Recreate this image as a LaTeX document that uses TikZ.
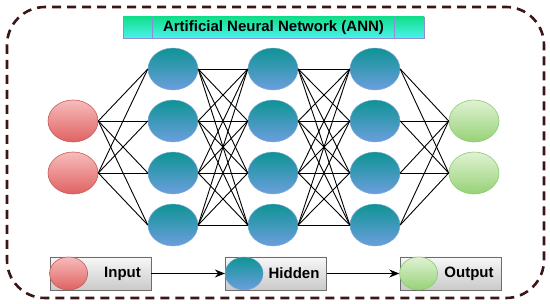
\documentclass[tikz,border=0pt]{standalone}
\usepackage{fontspec}
\setmainfont{Liberation Sans}
\usepackage{tikz}
\usetikzlibrary{positioning,arrows.meta,shapes.geometric}
\usepackage{xcolor}
\definecolor{frame}{HTML}{3B1616}
\definecolor{intop}{HTML}{F7BCBC}
\definecolor{inbot}{HTML}{E06262}
\definecolor{inedge}{HTML}{C65A5A}
\definecolor{hidtop}{HTML}{0E9494}
\definecolor{hidbot}{HTML}{6C9EDE}
\definecolor{hidedge}{HTML}{7FA6D8}
\definecolor{outtop}{HTML}{E0F2D4}
\definecolor{outbot}{HTML}{96D276}
\definecolor{outedge}{HTML}{8CC872}
\definecolor{titletop}{HTML}{12DF8C}
\definecolor{titlebot}{HTML}{4AF2EC}
\definecolor{titleedge}{HTML}{8E8ED2}

\begin{document}
\begin{tikzpicture}[x=1pt, y=-1pt, >={Stealth[length=10pt,width=8pt]},
    neuron/.style={ellipse, minimum width=50pt, minimum height=42pt, inner sep=0pt},
    innode/.style={neuron, top color=intop, bottom color=inbot, draw=inedge, line width=0.6pt},
    hidnode/.style={neuron, top color=hidtop, bottom color=hidbot, draw=hidedge, line width=0.4pt},
    outnode/.style={neuron, top color=outtop, bottom color=outbot, draw=outedge, line width=0.6pt},
    wire/.style={black, line width=0.9pt},
    legbox/.style={rectangle, minimum width=101pt, minimum height=33pt, inner sep=0pt,
      top color=gray!6, bottom color=gray!42, draw=gray!85!black, line width=0.8pt},
    legdot/.style={minimum width=38pt, minimum height=33pt},
    legtext/.style={font=\bfseries\fontsize{15}{18}\selectfont}]
    \useasboundingbox (0,0) rectangle (550,304);
    % outer dashed frame
    \draw[frame, line width=2.6pt, dash pattern=on 9pt off 6pt, rounded corners=38pt]
      (7,7) rectangle (544,298);
    % title bar
    \node[rectangle, minimum width=301pt, minimum height=21pt, inner sep=0pt,
      top color=titletop, bottom color=titlebot, draw=titleedge, line width=0.8pt,
      font=\bfseries\fontsize{15}{18}\selectfont] (title) at (273.5,27.5)
      {Artificial Neural Network (ANN)};
    \draw[titleedge, line width=0.8pt] ([xshift=30pt]title.north west) -- ([xshift=30pt]title.south west);
    \draw[titleedge, line width=0.8pt] ([xshift=-30pt]title.north east) -- ([xshift=-30pt]title.south east);
    % layers
    \node[innode] (i1) at (73,121) {};
    \node[innode] (i2) at (73,173) {};
    \foreach \j/\y in {1/69,2/121,3/173,4/225} {
      \node[hidnode] (a\j) at (173,\y) {};
      \node[hidnode] (b\j) at (273,\y) {};
      \node[hidnode] (c\j) at (375,\y) {};
    }
    \node[outnode] (o1) at (474,121) {};
    \node[outnode] (o2) at (474,173) {};
    % connections
    \foreach \i in {1,2} \foreach \j in {1,...,4} \draw[wire] (i\i.east) -- (a\j.west);
    \foreach \i in {1,...,4} \foreach \j in {1,...,4} {
      \draw[wire] (a\i.east) -- (b\j.west);
      \draw[wire] (b\i.east) -- (c\j.west);
    }
    \foreach \i in {1,...,4} \foreach \j in {1,2} \draw[wire] (c\i.east) -- (o\j.west);
    % legend
    \node[legbox] (lin) at (100.5,273.5) {};
    \node[legbox] (lhid) at (276,273.5) {};
    \node[legbox] (lout) at (450.5,273.5) {};
    \node[innode, legdot] (din) at ([xshift=19pt]lin.west) {};
    \node[hidnode, legdot] (dhid) at ([xshift=19pt]lhid.west) {};
    \node[outnode, legdot] (dout) at ([xshift=19pt]lout.west) {};
    \node[legtext] (tin) at ([xshift=22pt]lin.center) {Input};
    \node[legtext] (thid) at ([xshift=18pt]lhid.center) {Hidden};
    \node[legtext] (tout) at ([xshift=18.5pt]lout.center) {Output};
    \draw[->, line width=1pt] (lin.east) -- (dhid.west);
    \draw[->, line width=1pt] (lhid.east) -- (dout.west);
  \end{tikzpicture}
\end{document}
